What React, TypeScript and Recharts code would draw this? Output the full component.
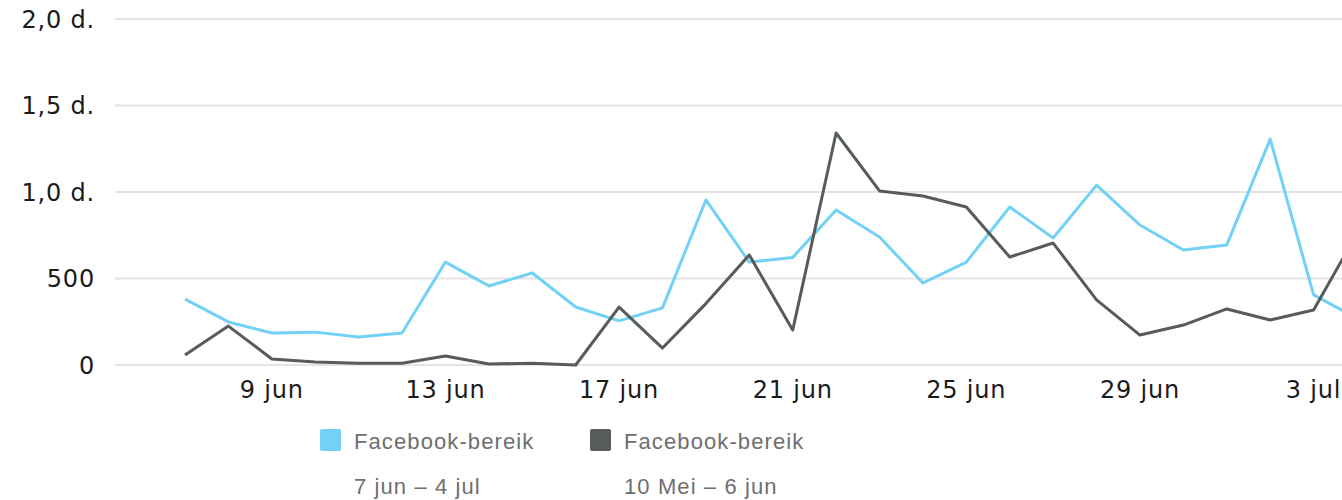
import { LineChart, Line, XAxis, YAxis, CartesianGrid, Legend } from 'recharts';

const DATES = [
  '7 jun', '8 jun', '9 jun', '10 jun', '11 jun', '12 jun', '13 jun',
  '14 jun', '15 jun', '16 jun', '17 jun', '18 jun', '19 jun', '20 jun',
  '21 jun', '22 jun', '23 jun', '24 jun', '25 jun', '26 jun', '27 jun',
  '28 jun', '29 jun', '30 jun', '1 jul', '2 jul', '3 jul', '4 jul',
];

// 7 jun – 4 jul
const CURRENT = [
  381, 249, 185, 190, 162, 185, 595, 457, 532, 335, 255, 330, 954, 595,
  622, 896, 740, 474, 595, 913, 734, 1040, 809, 665, 694, 1306, 405, 270,
];

// 10 Mei – 6 jun
const PREVIOUS = [
  58, 225, 35, 17, 10, 10, 52, 6, 10, 0, 335, 98, 355, 636,
  202, 1341, 1006, 977, 913, 624, 705, 376, 173, 231, 324, 260, 318, 760,
];

const X_TICKS = ['9 jun', '13 jun', '17 jun', '21 jun', '25 jun', '29 jun', '3 jul'];
const Y_TICKS = [0, 500, 1000, 1500, 2000];

const SERIES_NAMES = ['Facebook-bereik', 'Facebook-bereik'];
const SERIES_RANGES = ['7 jun – 4 jul', '10 Mei – 6 jun'];
const COLORS = ['#72d2f6', '#565b5b'];

const data = DATES.map((date, i) => ({
  date,
  current: CURRENT[i],
  previous: PREVIOUS[i],
}));

function formatY(v: number): string {
  if (v < 1000) return String(v);
  return (v / 1000).toFixed(1).replace('.', ',') + ' d.';
}

const LEGEND_LEFT = [320, 590];

function ChartLegend() {
  return (
    <div
      style={{
        position: 'relative',
        height: 100,
        fontFamily: '"Liberation Sans", Arial, sans-serif',
        fontSize: 22,
        lineHeight: '22px',
        letterSpacing: 1.1,
        color: '#6e6e6e',
      }}
    >
      {SERIES_NAMES.map((name, i) => (
        <div key={i} style={{ position: 'absolute', left: LEGEND_LEFT[i], top: 0 }}>
          <span
            style={{
              position: 'absolute',
              left: 0,
              top: 29,
              width: 21,
              height: 22,
              borderRadius: 2,
              background: COLORS[i],
            }}
          />
          <div style={{ position: 'absolute', left: 34, top: 31, whiteSpace: 'nowrap' }}>
            {name}
          </div>
          <div style={{ position: 'absolute', left: 34, top: 76, whiteSpace: 'nowrap' }}>
            {SERIES_RANGES[i]}
          </div>
        </div>
      ))}
    </div>
  );
}

const tickStyle = {
  fill: '#1b1b1b',
  fontSize: 24,
  fontFamily: '"DejaVu Sans", sans-serif',
  letterSpacing: 0.8,
};

export default function App() {
  return (
    <div
      style={{
        position: 'absolute',
        left: 0,
        top: 0,
        width: 1342,
        height: 500,
        overflow: 'hidden',
        background: '#fff',
      }}
    >
      <LineChart
        width={1400}
        height={500}
        data={data}
        margin={{ top: 19, right: 10, bottom: 0, left: 0 }}
      >
        <CartesianGrid vertical={false} stroke="#e4e4e4" strokeWidth={2} />
        <XAxis
          dataKey="date"
          ticks={X_TICKS}
          interval={0}
          axisLine={false}
          tickLine={false}
          tickSize={0}
          tickMargin={16}
          height={35}
          padding={{ left: 70, right: 33 }}
          tick={tickStyle}
        />
        <YAxis
          domain={[0, 2000]}
          ticks={Y_TICKS}
          interval={0}
          tickFormatter={formatY}
          axisLine={false}
          tickLine={false}
          tickSize={0}
          tickMargin={20}
          width={115}
          tick={tickStyle}
        />
        <Legend
          verticalAlign="bottom"
          content={() => <ChartLegend />}
          wrapperStyle={{ left: 0, bottom: 0, width: 1342, height: 100 }}
        />
        <Line
          type="linear"
          dataKey="current"
          stroke={COLORS[0]}
          strokeWidth={3}
          dot={false}
          strokeLinejoin="round"
          isAnimationActive={false}
        />
        <Line
          type="linear"
          dataKey="previous"
          stroke={COLORS[1]}
          strokeWidth={3}
          dot={false}
          strokeLinejoin="round"
          isAnimationActive={false}
        />
      </LineChart>
    </div>
  );
}
